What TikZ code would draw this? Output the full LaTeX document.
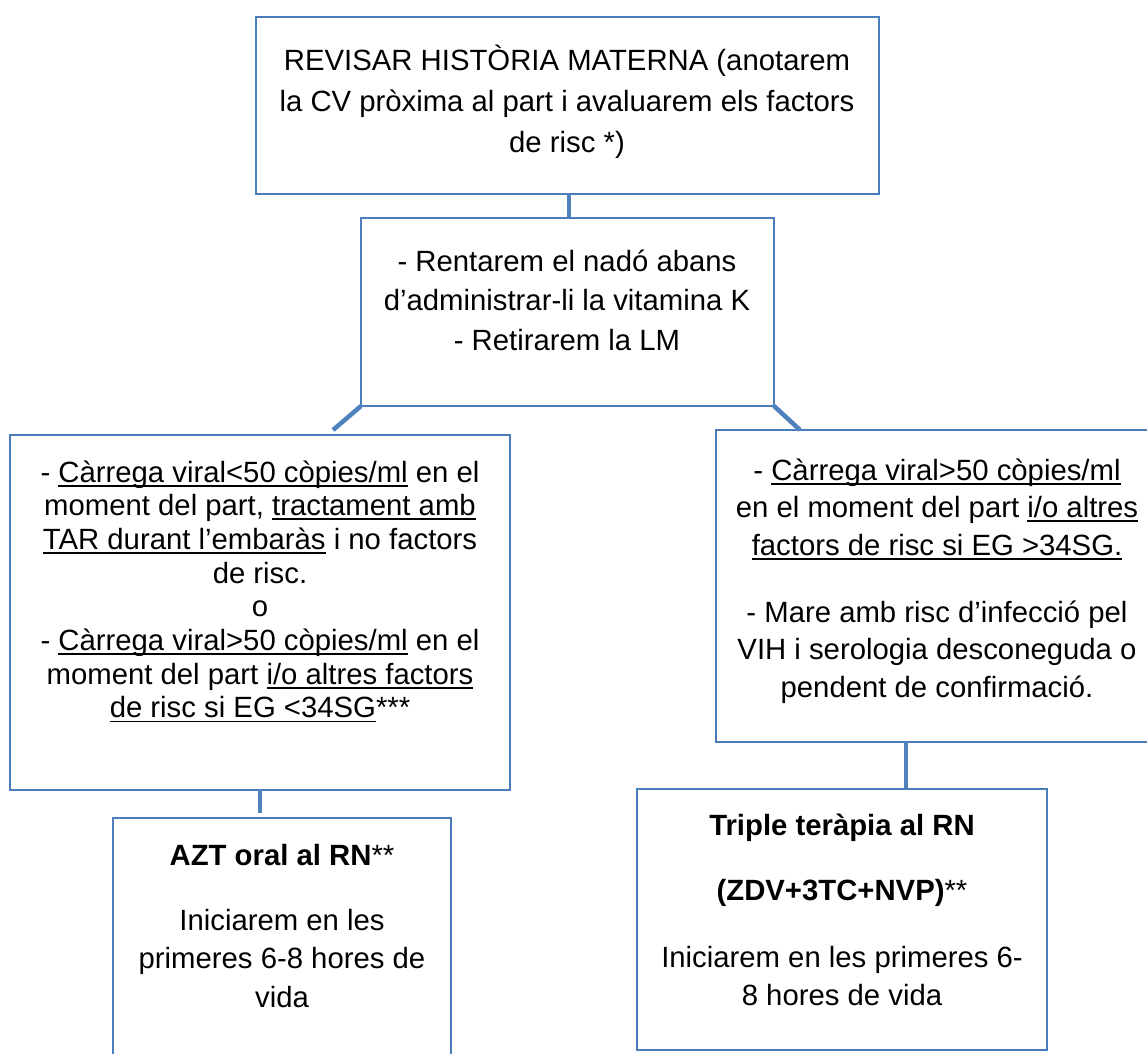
\documentclass[tikz,border=0pt]{standalone}
\usepackage{fontspec}
\setmainfont{Liberation Sans}
\usetikzlibrary{calc}
\definecolor{boxblue}{HTML}{4A7EBB}
\definecolor{linkblue}{HTML}{4F81BD}
\newsavebox{\undlbox}
\newcommand{\undl}[1]{\sbox\undlbox{#1}\rlap{\rule[-4.5pt]{\wd\undlbox}{1.8pt}}\usebox\undlbox}
\newcommand{\tstrut}{\rule{0pt}{30pt}}
\begin{document}
\begin{tikzpicture}[x=1pt,y=-1pt,
  box/.style={draw=boxblue, line width=1.5pt, outer sep=0pt, inner sep=0pt},
  txt/.style={anchor=north, inner sep=0pt, outer sep=0pt, align=center, text=black},
  link/.style={draw=linkblue, line width=4.5pt}]
\fill[white] (0,0) rectangle (1147,1053);
\useasboundingbox (0,0) rectangle (1147,1053);

% boxes
\node[box, minimum width=623pt, minimum height=177pt] (top) at (567.5,105.5) {};
\node[box, minimum width=413pt, minimum height=188pt] (mid) at (567.5,312) {};
\node[box, minimum width=500pt, minimum height=355pt] (left) at (260,612.5) {};
\node[box, minimum width=442pt, minimum height=312pt] (right) at (937,586) {};
\node[box, minimum width=338pt, minimum height=242pt] (bl) at (282,939) {};
\node[box, minimum width=410pt, minimum height=261pt] (br) at (842,919.5) {};

% texts
\node[txt, font=\fontsize{29.3pt}{41pt}\selectfont] (toptext) at (567,40)
 {\tstrut REVISAR HISTÒRIA MATERNA (anotarem\\la CV pròxima al part i avaluarem els factors\\de risc *)};
\node[txt, font=\fontsize{29.3pt}{39.5pt}\selectfont] (midtext) at (567,241)
 {\tstrut - Rentarem el nadó abans\\d’administrar-li la vitamina K\\- Retirarem la LM};
\node[txt, font=\fontsize{29.3pt}{33.7pt}\selectfont] (lefttext) at (260,452)
 {\tstrut - \undl{Càrrega viral<50 còpies/ml} en el\\
  moment del part, \undl{tractament amb}\\
  \undl{TAR durant l’embaràs} i no factors\\
  de risc.\\
  o\\
  - \undl{Càrrega viral>50 còpies/ml} en el\\
  moment del part \undl{i/o altres factors}\\
  \undl{de risc si EG <34SG}***};
\node[txt, font=\fontsize{29.3pt}{37.5pt}\selectfont] (righttext) at (937,450)
 {\tstrut - \undl{Càrrega viral>50 còpies/ml}\\
  en el moment del part \undl{i/o altres}\\
  \undl{factors de risc si EG >34SG.}\\[29.5pt]
  - Mare amb risc d’infecció pel\\
  VIH i serologia desconeguda o\\
  pendent de confirmació.};
\node[txt, font=\fontsize{29.3pt}{38.5pt}\selectfont] (bltext) at (282,835)
 {\tstrut\textbf{AZT oral al RN}**\\[26.5pt]
  Iniciarem en les\\
  primeres 6-8 hores de\\
  vida};
\node[txt, font=\fontsize{29.3pt}{38pt}\selectfont] (brtext) at (842,805)
 {\tstrut\textbf{Triple teràpia al RN}\\[27pt]
  \textbf{(ZDV+3TC+NVP)}**\\[29pt]
  Iniciarem en les primeres 6-\\
  8 hores de vida};

% connectors
\coordinate (c1) at (569,0);
\coordinate (lend) at (333,430);
\coordinate (c3) at (800,0);
\coordinate (c4) at (260,0);
\coordinate (c5) at (906,0);
\draw[link] (top.south -| c1) -- (mid.north -| c1);
\draw[link] (mid.south west) -- (lend);
\draw[link] (mid.south east) -- (right.north -| c3);
\draw[link, shorten >=5pt] (left.south -| c4) -- (bl.north -| c4);
\draw[link] (right.south -| c5) -- (br.north -| c5);
\end{tikzpicture}
\end{document}
